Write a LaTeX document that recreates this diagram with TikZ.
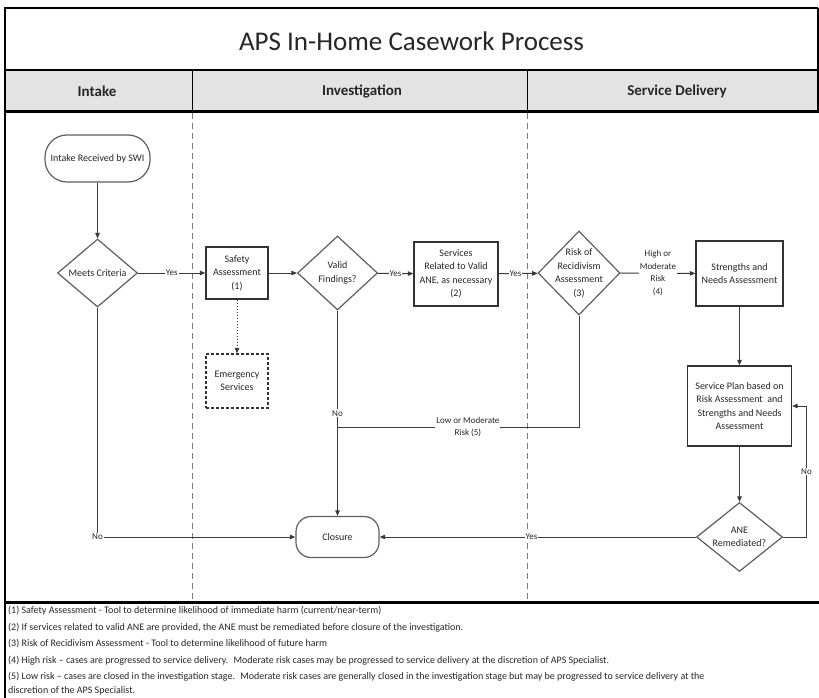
\documentclass[tikz,border=0pt]{standalone}
\usepackage{fontspec}
\setmainfont{Carlito}
\usetikzlibrary{shapes.geometric,arrows.meta}
\definecolor{ink}{HTML}{262626}
\definecolor{wire}{HTML}{3A3A3A}
\definecolor{boxline}{HTML}{333333}
\definecolor{diagray}{HTML}{5E5E5E}
\definecolor{headgray}{HTML}{E3E3E3}
\definecolor{lanegray}{HTML}{7A7A7A}

\begin{document}
\begin{tikzpicture}[x=1pt,y=-1pt,
  every node/.style={text=ink, font=\fontsize{10}{13.5}\selectfont},
  procbox/.style={draw=boxline, line width=1.3pt, fill=white, align=center, inner sep=0pt},
  dia/.style={diamond, draw=diagray, line width=1.2pt, fill=white, inner sep=0pt},
  diatext/.style={align=center, inner sep=0pt, text=ink, font=\fontsize{10}{13.5}\selectfont},
  pill/.style={draw=diagray, line width=1.2pt, fill=white, align=center, inner sep=0pt},
  link/.style={draw=wire, line width=1pt},
  flow/.style={link, -{Triangle[length=5.5pt,width=4.5pt]}},
  lbl/.style={fill=white, inner sep=1pt, align=center, font=\fontsize{9}{12.5}\selectfont},
  head/.style={font=\fontsize{15}{18}\selectfont\bfseries},
  note/.style={anchor=west, inner sep=0pt, align=left, font=\fontsize{10}{14}\selectfont},
  lane/.style={draw=lanegray, line width=1pt, dash pattern=on 6pt off 4pt}
]
\useasboundingbox (0,0) rectangle (819,698);

% header band and frame
\fill[headgray] (5,70.5) rectangle (818,111);
\draw[black, line width=2pt] (4,8.5) -- (818,8.5);
\draw[black, line width=2pt] (5,7.5) -- (5,698);
\draw[black, line width=1.5pt] (818,8.5) -- (818,111);
\draw[black, line width=2pt] (5,70.5) -- (818,70.5);
\draw[black, line width=1.5pt] (192.5,70.5) -- (192.5,111);
\draw[black, line width=1.5pt] (527.5,70.5) -- (527.5,111);
\draw[black, line width=3pt] (5,111.5) -- (819,111.5);
\draw[black, line width=3pt] (5,602.5) -- (819,602.5);

% swimlane separators
\draw[lane] (192.5,113) -- (192.5,601);
\draw[lane] (527.5,113) -- (527.5,601);

% title and lane headings
\node (title) at (411.5,41) {\fontsize{27}{30}\selectfont APS In-Home Casework Process};
\node[head] (hintake) at (97,91) {Intake};
\node[head] (hinv) at (362,91) {Investigation};
\node[head] (hserv) at (677,91) {Service Delivery};

% process steps
\node[pill, minimum width=105pt, minimum height=47pt, rounded corners=22pt] (intake) at (97.5,158.5) {Intake Received by SWI};
\node[dia, minimum width=80pt, minimum height=68pt, label={[diatext]center:Meets Criteria}] (meets) at (97.5,273) {};
\node[procbox, minimum width=62pt, minimum height=52pt] (safety) at (237,273) {Safety\\Assessment\\(1)};
\node[dia, minimum width=80pt, minimum height=74pt, label={[diatext]center:Valid\\Findings?}] (valid) at (337.5,273) {};
\node[procbox, minimum width=84pt, minimum height=64pt] (services) at (456,274) {Services\\Related to Valid\\ANE, as necessary\\(2)};
\node[dia, minimum width=82pt, minimum height=84pt, label={[diatext]center:Risk of\\Recidivism\\Assessment\\(3)}] (risk) at (579,273) {};
\node[procbox, minimum width=87pt, minimum height=65pt] (strengths) at (739.5,273.5) {Strengths and\\Needs Assessment};
\node[procbox, dash pattern=on 3pt off 2pt, line width=1.2pt, minimum width=62pt, minimum height=54pt] (emergency) at (237,381) {Emergency\\Services};
\node[procbox, minimum width=104pt, minimum height=80pt] (plan) at (739.5,406) {Service Plan based on\\Risk Assessment~ and\\Strengths and Needs\\Assessment};
\node[dia, minimum width=86pt, minimum height=69pt, label={[diatext]center:ANE\\Remediated?}] (ane) at (739.5,537) {};
\node[pill, minimum width=83pt, minimum height=41pt, rounded corners=15pt] (closure) at (337.5,537) {Closure};

\coordinate (merge) at (337.5,427);
\coordinate (noside) at (806.5,0);

% connectors
\draw[flow] (intake) -- (meets);
\draw[flow] (meets) -- node[lbl]{Yes} (safety);
\draw[flow] (safety) -- (valid);
\draw[flow] (valid) -- node[lbl]{Yes} (services);
\draw[flow] (services) -- node[lbl, pos=0.43]{Yes} (risk);
\draw[flow] (risk) -- node[lbl]{High or\\Moderate\\Risk\\(4)} (strengths);
\draw[flow] (strengths) -- (plan);
\draw[flow] (plan) -- (ane);
\draw[flow, dotted] (safety) -- (emergency);
\draw[flow] (valid) -- node[lbl]{No} (closure);
\draw[link] (risk.south) |- node[lbl, pos=0.73]{Low or Moderate\\Risk (5)} (merge);
\draw[flow] (meets.south) |- node[lbl]{No} (closure.west);
\draw[flow] (ane) -- node[lbl, pos=0.52]{Yes} (closure);
\draw[flow] (ane.east) -- (noside |- ane.east) -- node[lbl]{No} (noside |- plan.east) -- (plan.east);

% footnotes
\node[note] (fn1) at (8,611) {(1) Safety Assessment - Tool to determine likelihood of immediate harm (current/near-term)};
\node[note] (fn2) at (8,627.5) {(2) If services related to valid ANE are provided, the ANE must be remediated before closure of the investigation.};
\node[note] (fn3) at (8,644) {(3) Risk of Recidivism Assessment - Tool to determine likelihood of future harm};
\node[note] (fn4) at (8,660.5) {(4) High risk – cases are progressed to service delivery.~ Moderate risk cases may be progressed to service delivery at the discretion of APS Specialist.};
\node[note] (fn5) at (8,684) {(5) Low risk – cases are closed in the investigation stage.~ Moderate risk cases are generally closed in the investigation stage but may be progressed to service delivery at the\\discretion of the APS Specialist.};
\end{tikzpicture}
\end{document}
